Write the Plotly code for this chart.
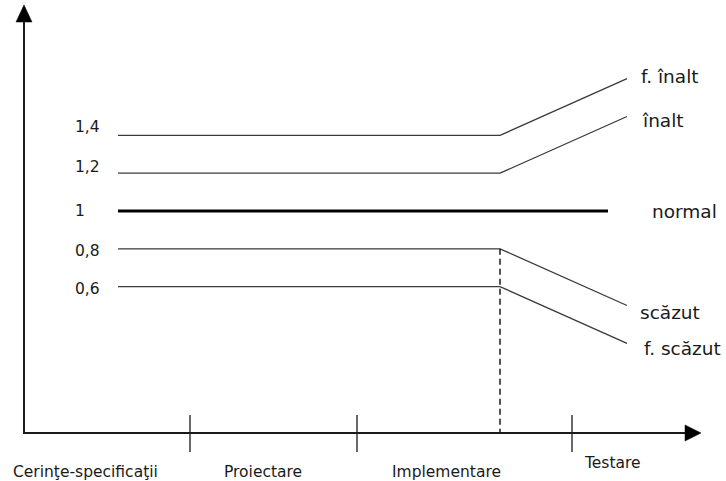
import plotly.graph_objects as go

# Effort-multiplier levels across the development phases
series_names = ["f. înalt", "înalt", "normal", "scăzut", "f. scăzut"]
start_levels = [1.4, 1.2, 1.0, 0.8, 0.6]
end_levels = [1.7, 1.5, 1.0, 0.5, 0.3]
level_labels = ["1,4", "1,2", "1", "0,8", "0,6"]

# Timeline positions (horizontal units of the drawing)
t_start = 118
t_kink = 500
t_end = 627
t_normal_end = 608

phases = ["Cerinţe-specificaţii", "Proiectare", "Implementare", "Testare"]
phase_label_pos = [85, 263, 446, 612]
phase_ticks = [190, 357, 572]

W, H = 726, 481
PX_PER_UNIT = 189.0
Y_ONE_PX = 211.0


def val_range():
    top = 1 + Y_ONE_PX / PX_PER_UNIT
    bottom = 1 - (H - Y_ONE_PX) / PX_PER_UNIT
    return [bottom, top]


def py(p):
    # paper y from a pixel row
    return 1 - p / H


axis_x = 24
axis_y = 433
ink = "#1a1a1a"
line_col = "#3a3a3a"
font = "DejaVu Sans"

fig = go.Figure()

for name, y0, y1 in zip(series_names, start_levels, end_levels):
    if name == "normal":
        fig.add_trace(go.Scatter(x=[t_start, t_normal_end], y=[y0, y1], mode="lines",
                                 line=dict(color="#000000", width=3.2), hoverinfo="skip"))
    else:
        fig.add_trace(go.Scatter(x=[t_start, t_kink, t_end], y=[y0, y0, y1], mode="lines",
                                 line=dict(color=line_col, width=1.3), hoverinfo="skip"))

shapes = []
# axes
shapes.append(dict(type="line", xref="x", yref="paper", x0=axis_x, x1=axis_x,
                   y0=py(axis_y), y1=py(20), line=dict(color=ink, width=2)))
shapes.append(dict(type="line", xref="x", yref="paper", x0=axis_x - 1, x1=688,
                   y0=py(axis_y), y1=py(axis_y), line=dict(color=ink, width=2)))
# arrowheads
shapes.append(dict(type="path", xref="x", yref="paper",
                   path=f"M {axis_x - 8} {py(22)} L {axis_x} {py(5)} L {axis_x + 8} {py(22)} Z",
                   fillcolor="#000", line=dict(color="#000", width=0.5)))
shapes.append(dict(type="path", xref="x", yref="paper",
                   path=f"M 685 {py(axis_y - 8)} L 701 {py(axis_y)} L 685 {py(axis_y + 8)} Z",
                   fillcolor="#000", line=dict(color="#000", width=0.5)))
# phase boundary ticks
for t in phase_ticks:
    shapes.append(dict(type="line", xref="x", yref="paper", x0=t, x1=t,
                       y0=py(415), y1=py(452), line=dict(color=ink, width=1.3)))
# dashed marker at the start of the deviation
shapes.append(dict(type="line", xref="x", yref="y", x0=t_kink, x1=t_kink,
                   y0=start_levels[3], y1=1 - (axis_y - Y_ONE_PX) / PX_PER_UNIT,
                   line=dict(color=ink, width=1.5, dash="6px,4px")))

annotations = []
label_shift = [2, -3, 0, -3, -2]
for lbl, lv, ys in zip(level_labels, start_levels, [8, 6, 0, -2, -2]):
    annotations.append(dict(x=73, y=lv, xref="x", yref="y", text=lbl, showarrow=False,
                            xanchor="left", yanchor="middle", yshift=ys,
                            font=dict(family=font, size=15.5, color=ink)))
name_x = [t_end, t_end, t_normal_end, t_end, t_end]
name_xshift = [12, 13, 42, 11, 15]
name_yshift = [2, -4, 0, -7, -5]
for nm, xe, ye, xs, ys in zip(series_names, name_x, end_levels, name_xshift, name_yshift):
    annotations.append(dict(x=xe, y=ye, xref="x", yref="y", text=nm, showarrow=False,
                            xanchor="left", yanchor="middle", xshift=xs, yshift=ys,
                            font=dict(family=font, size=18.5, color=ink)))
phase_y = [472, 472, 472, 463]
for ph, xp, yp in zip(phases, phase_label_pos, phase_y):
    annotations.append(dict(x=xp, y=py(yp), xref="x", yref="paper", text=ph, showarrow=False,
                            xanchor="center", yanchor="middle",
                            font=dict(family=font, size=15.5, color=ink)))

fig.update_layout(
    width=W, height=H,
    margin=dict(l=0, r=0, t=0, b=0),
    paper_bgcolor="white", plot_bgcolor="white",
    showlegend=False,
    xaxis=dict(range=[0, W], visible=False, fixedrange=True),
    yaxis=dict(range=val_range(), visible=False, fixedrange=True),
    shapes=shapes,
    annotations=annotations,
)

fig.write_html("out.html")
